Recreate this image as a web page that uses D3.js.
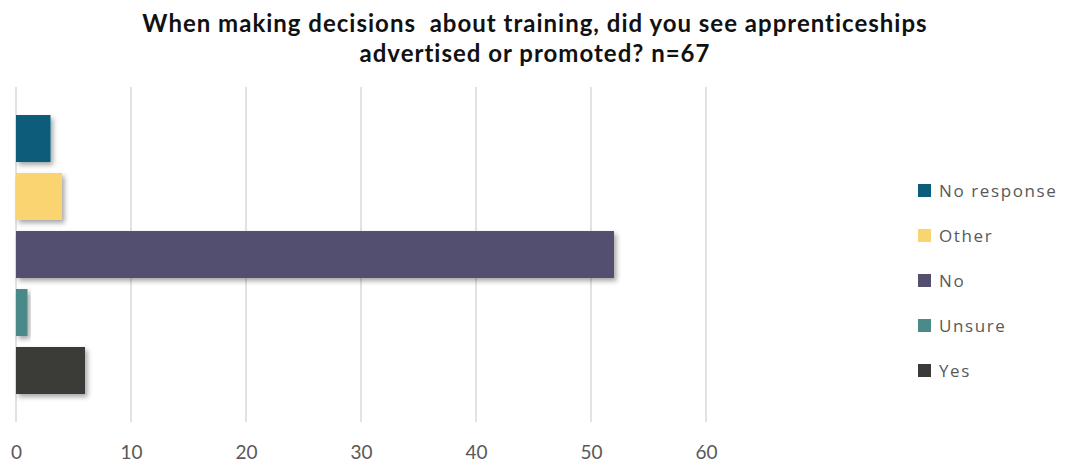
<!DOCTYPE html>
<html>
<head>
<meta charset="utf-8">
<script src="https://cdn.jsdelivr.net/npm/d3@7"></script>
<style>
  body { margin: 0; background: #fff; }
  svg { display: block; }
</style>
</head>
<body>
<svg id="chart" width="1065" height="466"></svg>
<script>
// Survey answers, top to bottom
const categories = ["No response", "Other", "No", "Unsure", "Yes"];
const counts = [3, 4, 52, 1, 6];
const colors = ["#0b5d7a", "#f9d46f", "#524f6f", "#4a8a88", "#3b3a39"];
const tickValues = [0, 10, 20, 30, 40, 50, 60];
const titleLines = [
  "When making decisions  about training, did you see apprenticeships",
  "advertised or promoted? n=67"
];

const svg = d3.select("#chart");

const x = d3.scaleLinear().domain([0, 60]).range([16, 706]);
const y = d3.scaleBand().domain(categories).range([87, 422])
  .paddingInner(0.19).paddingOuter(0.483);

// soft drop shadow under the bars
const defs = svg.append("defs");
const f = defs.append("filter").attr("id", "shadow")
  .attr("x", "-20%").attr("y", "-20%").attr("width", "150%").attr("height", "160%");
f.append("feDropShadow").attr("dx", 2.5).attr("dy", 3).attr("stdDeviation", 2.5)
  .attr("flood-color", "#000").attr("flood-opacity", 0.35);

// title
svg.append("g").selectAll("text").data(titleLines).join("text")
  .attr("x", 535).attr("y", (d, i) => 32 + i * 30)
  .attr("text-anchor", "middle")
  .attr("font-family", "Lato, sans-serif")
  .attr("font-weight", "bold").attr("font-size", 24)
  .attr("letter-spacing", 1)
  .style("white-space", "pre")
  .attr("fill", "#111")
  .text(d => d);

// vertical gridlines
svg.append("g").selectAll("line").data(tickValues).join("line")
  .attr("x1", d => x(d)).attr("x2", d => x(d))
  .attr("y1", 87).attr("y2", 422)
  .attr("stroke", "#d9d9d9").attr("stroke-width", 1.5);

// bars
svg.append("g").selectAll("rect").data(categories).join("rect")
  .attr("x", x(0))
  .attr("y", d => y(d))
  .attr("width", (d, i) => x(counts[i]) - x(0))
  .attr("height", y.bandwidth())
  .attr("fill", (d, i) => colors[i])
  .attr("filter", "url(#shadow)");

// x axis labels
const axis = d3.axisBottom(x).tickValues(tickValues).tickSize(0).tickPadding(0);
const ax = svg.append("g").attr("transform", "translate(0,445)").call(axis);
ax.select(".domain").remove();
ax.selectAll("text")
  .attr("font-family", "Lato, sans-serif")
  .attr("font-size", 19).attr("fill", "#595959");

// legend
const lg = svg.append("g").selectAll("g").data(categories).join("g")
  .attr("transform", (d, i) => `translate(918, ${191 + i * 45})`);
lg.append("rect").attr("x", 0).attr("y", -7).attr("width", 13).attr("height", 13)
  .attr("fill", (d, i) => colors[i]);
lg.append("text").attr("x", 21).attr("y", 0).attr("dy", "0.36em")
  .attr("font-family", "'Open Sans', sans-serif")
  .attr("font-size", 17).attr("fill", "#595959")
  .attr("letter-spacing", 1.6)
  .text(d => d);
</script>
</body>
</html>
